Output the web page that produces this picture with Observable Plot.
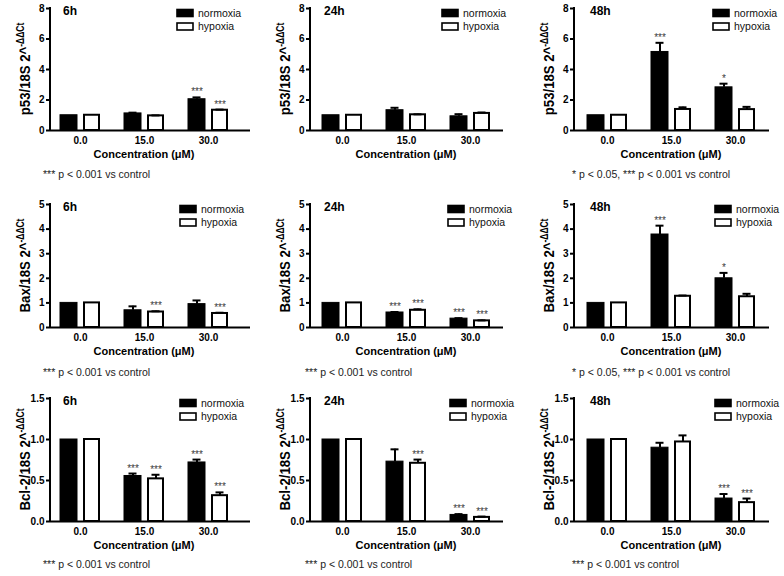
<!DOCTYPE html>
<html><head><meta charset="utf-8">
<script src="https://cdn.jsdelivr.net/npm/d3@7"></script>
<script src="https://cdn.jsdelivr.net/npm/@observablehq/plot@0.6"></script>
<style>
body{margin:0;background:#fff;}
#root{position:relative;width:784px;height:576px;overflow:hidden;background:#fff;font-family:"Liberation Sans",Arial,sans-serif;}
.panel{position:absolute;}
.panel svg{overflow:visible;}
.panel svg g[aria-label="y-axis tick"]{stroke-width:2px;}
</style></head><body><div id="root"></div>
<script>
// ---------- data ----------
const concentrations = ["0.0", "15.0", "30.0"];
const conditions = ["normoxia", "hypoxia"];
const timepoints = ["6h", "24h", "48h"];
const genes = ["p53", "Bax", "Bcl-2"];

const yTicks_p53 = [0, 2, 4, 6, 8];
const yTicks_bax = [0, 1, 2, 3, 4, 5];
const yTicks_bcl2 = [0, 0.5, 1.0, 1.5];

// p53
const p53_6h_normoxia = [1.00, 1.12, 2.05];
const p53_6h_normoxia_err = [0, 0.05, 0.12];
const p53_6h_hypoxia = [1.00, 0.96, 1.33];
const p53_6h_hypoxia_err = [0, 0.03, 0.04];
const p53_6h_normoxia_sig = ["", "", "***"];
const p53_6h_hypoxia_sig = ["", "", "***"];

const p53_24h_normoxia = [1.00, 1.33, 0.93];
const p53_24h_normoxia_err = [0, 0.16, 0.14];
const p53_24h_hypoxia = [1.00, 1.03, 1.12];
const p53_24h_hypoxia_err = [0, 0.03, 0.06];
const p53_24h_normoxia_sig = ["", "", ""];
const p53_24h_hypoxia_sig = ["", "", ""];

const p53_48h_normoxia = [1.00, 5.15, 2.83];
const p53_48h_normoxia_err = [0, 0.60, 0.24];
const p53_48h_hypoxia = [1.00, 1.38, 1.37];
const p53_48h_hypoxia_err = [0, 0.14, 0.18];
const p53_48h_normoxia_sig = ["", "***", "*"];
const p53_48h_hypoxia_sig = ["", "", ""];

// Bax
const bax_6h_normoxia = [1.00, 0.70, 0.95];
const bax_6h_normoxia_err = [0, 0.16, 0.15];
const bax_6h_hypoxia = [1.00, 0.63, 0.57];
const bax_6h_hypoxia_err = [0, 0.03, 0.03];
const bax_6h_normoxia_sig = ["", "", ""];
const bax_6h_hypoxia_sig = ["", "***", "***"];

const bax_24h_normoxia = [1.00, 0.61, 0.36];
const bax_24h_normoxia_err = [0, 0.02, 0.02];
const bax_24h_hypoxia = [1.00, 0.70, 0.27];
const bax_24h_hypoxia_err = [0, 0.04, 0.02];
const bax_24h_normoxia_sig = ["", "***", "***"];
const bax_24h_hypoxia_sig = ["", "***", "***"];

const bax_48h_normoxia = [1.00, 3.78, 2.00];
const bax_48h_normoxia_err = [0, 0.36, 0.22];
const bax_48h_hypoxia = [1.00, 1.27, 1.25];
const bax_48h_hypoxia_err = [0, 0.03, 0.12];
const bax_48h_normoxia_sig = ["", "***", "*"];
const bax_48h_hypoxia_sig = ["", "", ""];

// Bcl-2
const bcl2_6h_normoxia = [1.00, 0.555, 0.72];
const bcl2_6h_normoxia_err = [0, 0.03, 0.035];
const bcl2_6h_hypoxia = [1.00, 0.52, 0.315];
const bcl2_6h_hypoxia_err = [0, 0.05, 0.04];
const bcl2_6h_normoxia_sig = ["", "***", "***"];
const bcl2_6h_hypoxia_sig = ["", "***", "***"];

const bcl2_24h_normoxia = [1.00, 0.73, 0.08];
const bcl2_24h_normoxia_err = [0, 0.15, 0.01];
const bcl2_24h_hypoxia = [1.00, 0.71, 0.05];
const bcl2_24h_hypoxia_err = [0, 0.045, 0.01];
const bcl2_24h_normoxia_sig = ["", "", "***"];
const bcl2_24h_hypoxia_sig = ["", "***", "***"];

const bcl2_48h_normoxia = [1.00, 0.90, 0.28];
const bcl2_48h_normoxia_err = [0, 0.06, 0.055];
const bcl2_48h_hypoxia = [1.00, 0.97, 0.23];
const bcl2_48h_hypoxia_err = [0, 0.08, 0.05];
const bcl2_48h_normoxia_sig = ["", "", "***"];
const bcl2_48h_hypoxia_sig = ["", "", "***"];

const note1 = "*** p < 0.001 vs control";
const note2 = "* p < 0.05, *** p < 0.001 vs control";

// ---------- layout (styles only) ----------
const FONT = '"Liberation Sans", Arial, Helvetica, sans-serif';
const cols = [
  {left: 0, width: 260, ml: 50, mr: 10, c0: 80, title: 63, foot: 43},
  {left: 260, width: 260, ml: 50, mr: 17, c0: 82, title: 64, foot: 45},
  {left: 520, width: 264, ml: 54, mr: 15, c0: 87, title: 70, foot: 52}
];
const rows = [
  {top: 0, height: 190, mt: 8, mb: 60, foot: 174, leg: [177, 182, 193]},
  {top: 190, height: 190, mt: 14, mb: 53, foot: 182, leg: [180, 188, 195]},
  {top: 380, height: 196, mt: 18, mb: 55, foot: 184, leg: [180, 190, 195]}
];

const geneInfo = [
  {gene: genes[0], ymax: 8, ticks: yTicks_p53, fmt: d3.format("d"),
   sets: [
     [p53_6h_normoxia, p53_6h_normoxia_err, p53_6h_normoxia_sig, p53_6h_hypoxia, p53_6h_hypoxia_err, p53_6h_hypoxia_sig, note1],
     [p53_24h_normoxia, p53_24h_normoxia_err, p53_24h_normoxia_sig, p53_24h_hypoxia, p53_24h_hypoxia_err, p53_24h_hypoxia_sig, ""],
     [p53_48h_normoxia, p53_48h_normoxia_err, p53_48h_normoxia_sig, p53_48h_hypoxia, p53_48h_hypoxia_err, p53_48h_hypoxia_sig, note2]
   ]},
  {gene: genes[1], ymax: 5, ticks: yTicks_bax, fmt: d3.format("d"),
   sets: [
     [bax_6h_normoxia, bax_6h_normoxia_err, bax_6h_normoxia_sig, bax_6h_hypoxia, bax_6h_hypoxia_err, bax_6h_hypoxia_sig, note1],
     [bax_24h_normoxia, bax_24h_normoxia_err, bax_24h_normoxia_sig, bax_24h_hypoxia, bax_24h_hypoxia_err, bax_24h_hypoxia_sig, note1],
     [bax_48h_normoxia, bax_48h_normoxia_err, bax_48h_normoxia_sig, bax_48h_hypoxia, bax_48h_hypoxia_err, bax_48h_hypoxia_sig, note2]
   ]},
  {gene: genes[2], ymax: 1.5, ticks: yTicks_bcl2, fmt: d3.format(".1f"),
   sets: [
     [bcl2_6h_normoxia, bcl2_6h_normoxia_err, bcl2_6h_normoxia_sig, bcl2_6h_hypoxia, bcl2_6h_hypoxia_err, bcl2_6h_hypoxia_sig, note1],
     [bcl2_24h_normoxia, bcl2_24h_normoxia_err, bcl2_24h_normoxia_sig, bcl2_24h_hypoxia, bcl2_24h_hypoxia_err, bcl2_24h_hypoxia_sig, note1],
     [bcl2_48h_normoxia, bcl2_48h_normoxia_err, bcl2_48h_normoxia_sig, bcl2_48h_hypoxia, bcl2_48h_hypoxia_err, bcl2_48h_hypoxia_sig, note1]
   ]}
];

const root = document.getElementById("root");

function makePanel(r, c) {
  const G = geneInfo[r], R = rows[r], C = cols[c];
  const [nv, ne, ns, hv, he, hs, note] = G.sets[c];
  const N = concentrations.map((k, i) => ({conc: k, cond: conditions[0], value: nv[i], err: ne[i], sig: ns[i]}));
  const H = concentrations.map((k, i) => ({conc: k, cond: conditions[1], value: hv[i], err: he[i], sig: hs[i]}));
  const NE = N.filter(d => d.err > 0), HE = H.filter(d => d.err > 0);
  const NS = N.filter(d => d.sig), HS = H.filter(d => d.sig);
  const top = d => d.value + d.err;

  const plot = Plot.plot({
    width: C.width, height: R.height,
    marginLeft: C.ml, marginRight: C.mr, marginTop: R.mt, marginBottom: R.mb,
    style: {fontFamily: FONT, fontSize: "10px", fontWeight: "bold", color: "black", background: "transparent", overflow: "visible"},
    x: {type: "band", domain: concentrations, range: [C.c0 - 32, C.c0 + 160], padding: 0,
        tickSize: 0, tickPadding: 6, label: null},
    y: {domain: [0, G.ymax], ticks: G.ticks, tickFormat: G.fmt, tickSize: 4, tickPadding: 2, label: null},
    marks: [
      Plot.barY(N, {x: "conc", y: "value", fill: "black", stroke: "black", strokeWidth: 1, insetLeft: 12, insetRight: 35}),
      Plot.barY(H, {x: "conc", y: "value", fill: "white", stroke: "black", strokeWidth: 2, insetLeft: 36, insetRight: 13}),
      Plot.ruleX(NE, {x: "conc", y1: "value", y2: top, dx: -11.5, stroke: "black", strokeWidth: 2}),
      Plot.ruleX(HE, {x: "conc", y1: "value", y2: top, dx: 11.5, stroke: "black", strokeWidth: 2}),
      Plot.tickY(NE, {x: "conc", y: top, insetLeft: 16.5, insetRight: 39.5, stroke: "black", strokeWidth: 2}),
      Plot.tickY(HE, {x: "conc", y: top, insetLeft: 39.5, insetRight: 16.5, stroke: "black", strokeWidth: 2}),
      Plot.text(NS, {x: "conc", y: top, text: "sig", dx: -11.5, dy: -2, lineAnchor: "bottom", fontSize: 10, fontWeight: "normal", fill: "#3a3a3a"}),
      Plot.text(HS, {x: "conc", y: top, text: "sig", dx: 11.5, dy: -2, lineAnchor: "bottom", fontSize: 10, fontWeight: "normal", fill: "#3a3a3a"}),
      Plot.ruleY([0], {stroke: "black", strokeWidth: 2})
    ]
  });

  const svg = d3.select(plot);
  const ys = plot.scale("y"), xs = plot.scale("x");
  const y0 = ys.apply(0), y1 = ys.apply(G.ymax);
  const frameBottom = R.height - R.mb;

  // y axis line
  svg.append("line").attr("x1", C.ml).attr("x2", C.ml).attr("y1", y0 + 1).attr("y2", y1 - 1)
    .attr("stroke", "black").attr("stroke-width", 2);

  // y axis label with superscript (slightly condensed, like the original)
  const ylab = svg.append("text")
    .attr("transform", `translate(${C.ml - 20},${(y0 + y1) / 2}) rotate(-90) scale(0.85,1)`)
    .attr("x", 0).attr("y", 0)
    .attr("text-anchor", "middle")
    .attr("font-family", FONT).attr("font-size", 15.5).attr("font-weight", "bold").attr("fill", "black");
  ylab.append("tspan").text(G.gene + "/18S 2^");
  ylab.append("tspan").attr("font-size", 10).attr("dy", -6).text("-ΔΔCt");

  // x axis label
  svg.append("text")
    .attr("x", xs.apply(concentrations[1]) + xs.bandwidth / 2)
    .attr("y", frameBottom + 28)
    .attr("text-anchor", "middle")
    .attr("font-family", FONT).attr("font-size", 11).attr("font-weight", "bold").attr("fill", "black")
    .text("Concentration (μM)");

  // panel title
  svg.append("text").attr("x", C.title).attr("y", R.mt + 7)
    .attr("text-anchor", "start")
    .attr("font-family", FONT).attr("font-size", 12).attr("font-weight", "bold").attr("fill", "black")
    .text(timepoints[c]);

  // legend
  const lx = R.leg[c];
  conditions.forEach((cond, i) => {
    const cy = R.mt + 5 + 13.5 * i;
    svg.append("rect").attr("x", lx).attr("y", cy - 3.5).attr("width", 16).attr("height", 7)
      .attr("fill", i === 0 ? "black" : "white").attr("stroke", "black").attr("stroke-width", 1.6);
    svg.append("text").attr("x", lx + 21).attr("y", cy).attr("dy", "0.36em")
      .attr("text-anchor", "start")
      .attr("font-family", FONT).attr("font-size", 10.5).attr("font-weight", "normal").attr("fill", "#111")
      .text(cond);
  });

  // footnote
  if (note) {
    svg.append("text").attr("x", C.foot).attr("y", R.foot).attr("dy", "0.36em")
      .attr("text-anchor", "start")
      .attr("font-family", FONT).attr("font-size", 10.5).attr("font-weight", "normal").attr("fill", "#222")
      .text(note);
  }

  const div = document.createElement("div");
  div.className = "panel";
  div.style.left = C.left + "px";
  div.style.top = R.top + "px";
  div.appendChild(plot);
  root.appendChild(div);
}

for (let r = 0; r < 3; r++) for (let c = 0; c < 3; c++) makePanel(r, c);
</script>
</body></html>
